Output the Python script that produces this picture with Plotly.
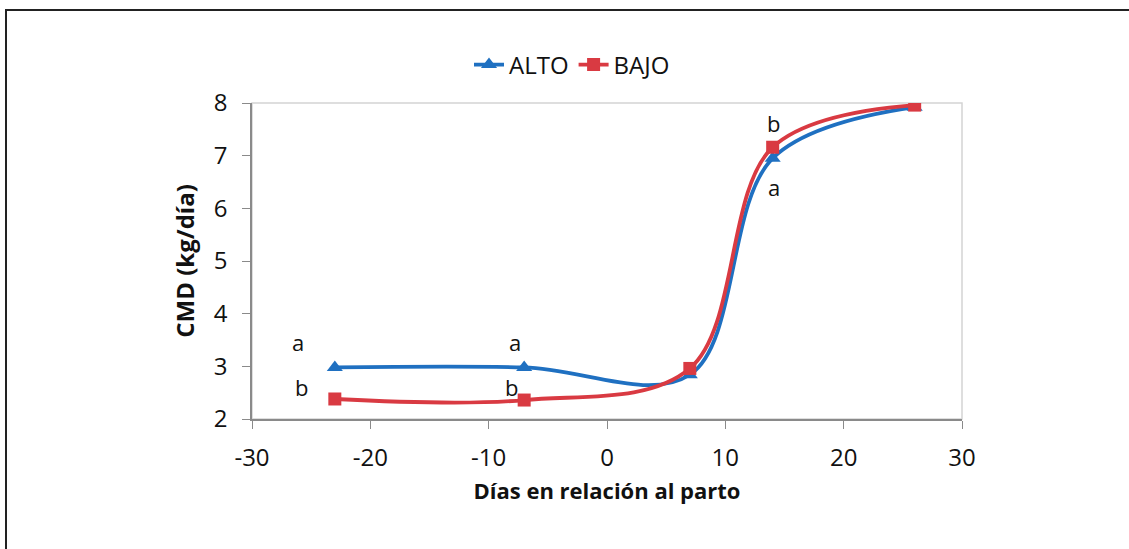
import plotly.graph_objects as go

dias = [-23, -7, 7, 14, 26]
alto = [2.98, 2.98, 2.84, 6.95, 7.92]
bajo = [2.38, 2.36, 2.96, 7.16, 7.96]

letters_text = ["a", "a", "b", "b", "b", "a"]
letters_x = [-26.1, -7.8, -25.8, -8.1, 14.1, 14.1]
letters_y = [3.47, 3.47, 2.6, 2.6, 7.62, 6.4]

x_ticks = [-30, -20, -10, 0, 10, 20, 30]
x_labels = ["-30", "-20", "-10", "0", "10", "20", "30"]
y_ticks = [2, 3, 4, 5, 6, 7, 8]

BLUE = "#1f70c1"
RED = "#d93a42"
FONT = "'Open Sans', sans-serif"
TXT = "#111111"

fig = go.Figure()
fig.add_trace(go.Scatter(x=dias, y=alto, name="ALTO", mode="lines+markers",
                         line=dict(color=BLUE, width=3.8, shape="spline", smoothing=1.0),
                         marker=dict(symbol="triangle-up", size=14, color=BLUE)))
fig.add_trace(go.Scatter(x=dias, y=bajo, name="BAJO", mode="lines+markers",
                         line=dict(color=RED, width=3.8, shape="spline", smoothing=1.0),
                         marker=dict(symbol="square", size=13, color=RED)))

for t, x, y in zip(letters_text, letters_x, letters_y):
    fig.add_annotation(x=x, y=y, text=t, showarrow=False,
                       font=dict(family=FONT, size=22, color=TXT))

L, R, T, B = 252, 167, 103, 130
W, H = 1129, 549
pw, ph = W - L - R, H - T - B

# light plot-area box
fig.add_shape(type="rect", xref="paper", yref="paper", x0=0, y0=0, x1=1, y1=1,
              line=dict(color="#d4d4d4", width=1.5), layer="below")
# outer frame
fig.add_shape(type="rect", xref="paper", yref="paper",
              x0=(6 - L) / pw, y0=(H - B - 10) / ph,
              x1=(W + 20 - L) / pw, y1=-(B + 20) / ph,
              line=dict(color="#222222", width=2), layer="below")

fig.update_layout(
    width=W, height=H,
    margin=dict(l=L, r=R, t=T, b=B),
    paper_bgcolor="white", plot_bgcolor="white",
    font=dict(family=FONT, size=22, color=TXT),
    showlegend=True,
    legend=dict(orientation="h", x=(572 - L) / pw, xanchor="center",
                y=(H - B - 65) / ph, yanchor="middle",
                font=dict(family=FONT, size=24, color=TXT),
                traceorder="normal"),
    xaxis=dict(range=[-30, 30], tickvals=x_ticks, ticktext=x_labels,
               showgrid=False, zeroline=False,
               showline=True, linecolor="#8a8a8a", linewidth=1.5,
               ticks="outside", ticklen=8, tickcolor="#8a8a8a", ticklabelstandoff=8,
               tickfont=dict(family=FONT, size=24, color=TXT),
               title=dict(text="<b>Días en relación al parto</b>", standoff=12,
                          font=dict(family=FONT, size=22, color=TXT))),
    yaxis=dict(range=[2, 8], tickvals=y_ticks, showgrid=False, zeroline=False,
               showline=True, linecolor="#8a8a8a", linewidth=1.5,
               ticks="outside", ticklen=8, tickcolor="#8a8a8a", ticklabelstandoff=10,
               tickfont=dict(family=FONT, size=24, color=TXT),
               title=dict(text="<b>CMD (kg/día)</b>", standoff=12,
                          font=dict(family=FONT, size=24, color=TXT))),
)

fig.write_html("out.html", config={"displayModeBar": False},
               post_script="document.body.style.margin='0';document.body.style.overflow='hidden';")
